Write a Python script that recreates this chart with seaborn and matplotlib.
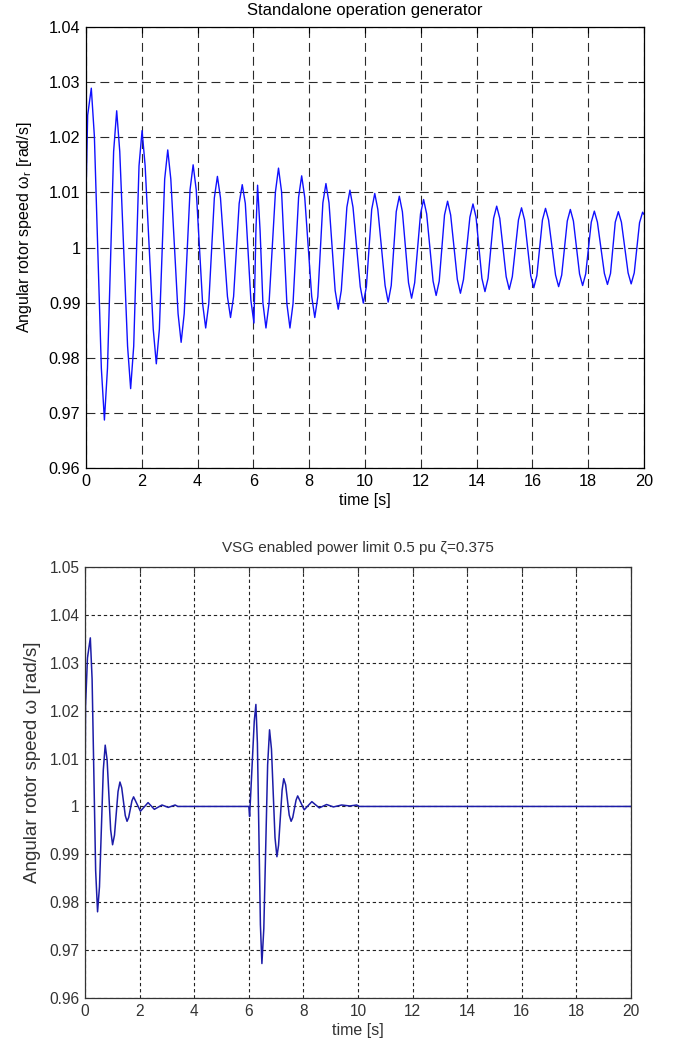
import numpy as np
import pandas as pd
import matplotlib
matplotlib.use("Agg")
import matplotlib.pyplot as plt
import seaborn as sns

# ---------------- data ----------------
# Top panel: standalone generator, rotor speed samples (extrema and flanks of each swing)
top_t = [0.00, 0.01, 0.06, 0.19, 0.30,
         0.55, 0.66, 0.77,
         0.99, 1.10, 1.21,
         1.49, 1.60, 1.71,
         1.90, 2.01, 2.12,
         2.41, 2.52, 2.63,
         2.82, 2.93, 3.04,
         3.30, 3.41, 3.52,
         3.73, 3.84, 3.95,
         4.18, 4.29, 4.40,
         4.60, 4.71, 4.82,
         5.07, 5.18, 5.29,
         5.49, 5.60, 5.71,
         5.91, 6.02, 6.09, 6.15, 6.24, 6.34,
         6.45, 6.56,
         6.79, 6.90, 7.01,
         7.20, 7.31, 7.42,
         7.62, 7.73, 7.84,
         8.09, 8.20, 8.31,
         8.49, 8.60, 8.71,
         8.93, 9.04, 9.15,
         9.35, 9.46, 9.57,
         9.83, 9.94, 10.05,
         10.24, 10.35, 10.46,
         10.72, 10.83, 10.94,
         11.12, 11.23, 11.34,
         11.56, 11.67, 11.78,
         11.99, 12.10, 12.21,
         12.44, 12.55, 12.66,
         12.85, 12.96, 13.07,
         13.31, 13.42, 13.53,
         13.76, 13.87, 13.98,
         14.19, 14.30, 14.41,
         14.61, 14.72, 14.83,
         15.06, 15.17, 15.28,
         15.50, 15.61, 15.72,
         15.94, 16.05, 16.16,
         16.36, 16.47, 16.58,
         16.83, 16.94, 17.05,
         17.25, 17.36, 17.47,
         17.69, 17.80, 17.91,
         18.11, 18.22, 18.33,
         18.58, 18.69, 18.80,
         18.97, 19.08, 19.19,
         19.43, 19.54, 19.65,
         19.84, 19.95, 20.00]
top_w = [1.0000, 1.0120, 1.0240, 1.0289, 1.0202,
         0.9781, 0.9687, 0.9781,
         1.0174, 1.0248, 1.0174,
         0.9821, 0.9744, 0.9821,
         1.0148, 1.0212, 1.0148,
         0.9852, 0.9789, 0.9852,
         1.0124, 1.0177, 1.0124,
         0.9880, 0.9828, 0.9880,
         1.0105, 1.0150, 1.0105,
         0.9898, 0.9854, 0.9898,
         1.0090, 1.0129, 1.0090,
         0.9911, 0.9873, 0.9911,
         1.0080, 1.0114, 1.0080,
         0.9904, 0.9863, 1.0030, 1.0113, 1.0030, 0.9900,
         0.9854, 0.9898,
         1.0101, 1.0144, 1.0101,
         0.9898, 0.9854, 0.9898,
         1.0091, 1.0130, 1.0091,
         0.9911, 0.9873, 0.9911,
         1.0081, 1.0116, 1.0081,
         0.9922, 0.9888, 0.9922,
         1.0073, 1.0104, 1.0073,
         0.9929, 0.9899, 0.9929,
         1.0069, 1.0098, 1.0069,
         0.9931, 0.9901, 0.9931,
         1.0065, 1.0093, 1.0065,
         0.9936, 0.9908, 0.9936,
         1.0061, 1.0087, 1.0061,
         0.9939, 0.9913, 0.9939,
         1.0059, 1.0084, 1.0059,
         0.9942, 0.9917, 0.9942,
         1.0055, 1.0079, 1.0055,
         0.9944, 0.9920, 0.9944,
         1.0053, 1.0075, 1.0053,
         0.9947, 0.9924, 0.9947,
         1.0050, 1.0072, 1.0050,
         0.9949, 0.9927, 0.9949,
         1.0050, 1.0071, 1.0050,
         0.9950, 0.9929, 0.9950,
         1.0048, 1.0069, 1.0048,
         0.9952, 0.9931, 0.9952,
         1.0046, 1.0066, 1.0046,
         0.9953, 0.9933, 0.9953,
         1.0046, 1.0065, 1.0046,
         0.9954, 0.9934, 0.9954,
         1.0045, 1.0064, 1.0060]

# Bottom panel: VSG enabled, power limit 0.5 pu
bot_t = [0.00, 0.02, 0.09, 0.195, 0.26,
         0.39, 0.46, 0.53,
         0.67, 0.74, 0.81,
         0.94, 1.01, 1.08,
         1.21, 1.28, 1.345,
         1.475, 1.54, 1.60,
         1.72, 1.78, 2.03, 2.31, 2.54, 2.82, 3.05, 3.30, 3.40,
         6.00, 6.03, 6.20, 6.26, 6.315,
         6.425, 6.48, 6.55,
         6.69, 6.76, 6.83,
         6.96, 7.03, 7.09,
         7.22, 7.28, 7.35,
         7.48, 7.55, 7.61,
         7.73, 7.79, 8.03, 8.31, 8.58, 8.85, 9.10, 9.40, 9.70, 9.95,
         10.05, 20.00]
bot_w = [1.0000, 1.0210, 1.0310, 1.0352, 1.0266,
         0.9866, 0.9780, 0.9832,
         1.0076, 1.0128, 1.0097,
         0.9951, 0.9920, 0.9940,
         1.0031, 1.0051, 1.0039,
         0.9981, 0.9969, 0.9977,
         1.0012, 1.0020, 0.9990, 1.0008, 0.9994, 1.0003, 0.9998, 1.0003, 1.0000,
         1.0000, 0.9979, 1.0178, 1.0213, 1.0132,
         0.9753, 0.9672, 0.9745,
         1.0087, 1.0160, 1.0120,
         0.9935, 0.9895, 0.9919,
         1.0034, 1.0058, 1.0045,
         0.9982, 0.9969, 0.9977,
         1.0013, 1.0022, 0.9993, 1.0010, 0.9997, 1.0004, 0.9999, 1.0003, 1.0001, 1.0003,
         1.0000, 1.0000]

x_ticks = [0, 2, 4, 6, 8, 10, 12, 14, 16, 18, 20]
top_yticks = [0.96, 0.97, 0.98, 0.99, 1.00, 1.01, 1.02, 1.03, 1.04]
top_ylabels = ["0.96", "0.97", "0.98", "0.99", "1", "1.01", "1.02", "1.03", "1.04"]
bot_yticks = [0.96, 0.97, 0.98, 0.99, 1.00, 1.01, 1.02, 1.03, 1.04, 1.05]
bot_ylabels = ["0.96", "0.97", "0.98", "0.99", "1", "1.01", "1.02", "1.03", "1.04", "1.05"]

top_title = "Standalone operation generator"
bot_title = "VSG enabled power limit 0.5 pu ζ=0.375"
top_ylabel = r"Angular rotor speed ω$_\mathregular{r}$ [rad/s]"
bot_ylabel = "Angular rotor speed ω [rad/s]"
x_label = "time [s]"

# ---------------- styling ----------------
sns.set_theme(style="white")
plt.rcParams["font.family"] = ["Liberation Sans", "DejaVu Sans"]
plt.rcParams["mathtext.fontset"] = "custom"
plt.rcParams["mathtext.rm"] = "Liberation Sans"

fig = plt.figure(figsize=(6.81, 10.49), dpi=100)
ax1 = fig.add_axes([86 / 681, 1 - 468 / 1049, (644 - 86) / 681, (468 - 27) / 1049])
ax2 = fig.add_axes([85 / 681, 1 - 998 / 1049, (631 - 85) / 681, (998 - 567) / 1049])

top_df = pd.DataFrame({"t": top_t, "w": top_w})
bot_df = pd.DataFrame({"t": bot_t, "w": bot_w})

sns.lineplot(data=top_df, x="t", y="w", ax=ax1, color="#1010ff", lw=1.0,
             estimator=None, sort=False)
sns.lineplot(data=bot_df, x="t", y="w", ax=ax2, color="#1c1ca8", lw=1.1,
             estimator=None, sort=False)


def style(ax, yticks, ylabels, ylim, title, ylabel, gridcolor, dashes, textcolor,
          framecolor, titlepad, titlesize, ticksize, ylabelsize, ylabel_xy):
    ax.set_xlim(0, 20)
    ax.set_ylim(*ylim)
    ax.set_xticks(x_ticks)
    ax.set_xticklabels([str(v) for v in x_ticks])
    ax.set_yticks(yticks)
    ax.set_yticklabels(ylabels)
    ax.tick_params(direction="in", length=4, width=0.8, top=True, right=True,
                   labelsize=ticksize, colors=framecolor, labelcolor=textcolor, pad=4)
    ax.grid(True, color=gridcolor, linestyle=(0, dashes), linewidth=0.8)
    for s in ax.spines.values():
        s.set_color(framecolor)
        s.set_linewidth(0.9)
    ax.set_title(title, fontsize=titlesize, color=textcolor, pad=titlepad)
    ax.set_xlabel(x_label, fontsize=11.5, color=textcolor, labelpad=3)
    ax.set_ylabel(ylabel, fontsize=ylabelsize, color=textcolor)
    ax.yaxis.set_label_coords(*ylabel_xy)


style(ax1, top_yticks, top_ylabels, (0.96, 1.04), top_title, top_ylabel,
      "#2a2a2a", (8, 4.5), "black", "black", 9, 12, 11.7, 11.5, (-0.094, 0.546))
style(ax2, bot_yticks, bot_ylabels, (0.96, 1.05), bot_title, bot_ylabel,
      "#222222", (3, 2.5), "#333333", "#333333", 11, 11, 11.2, 13.5, (-0.080, 0.546))

fig.savefig("out.png", dpi=100)
